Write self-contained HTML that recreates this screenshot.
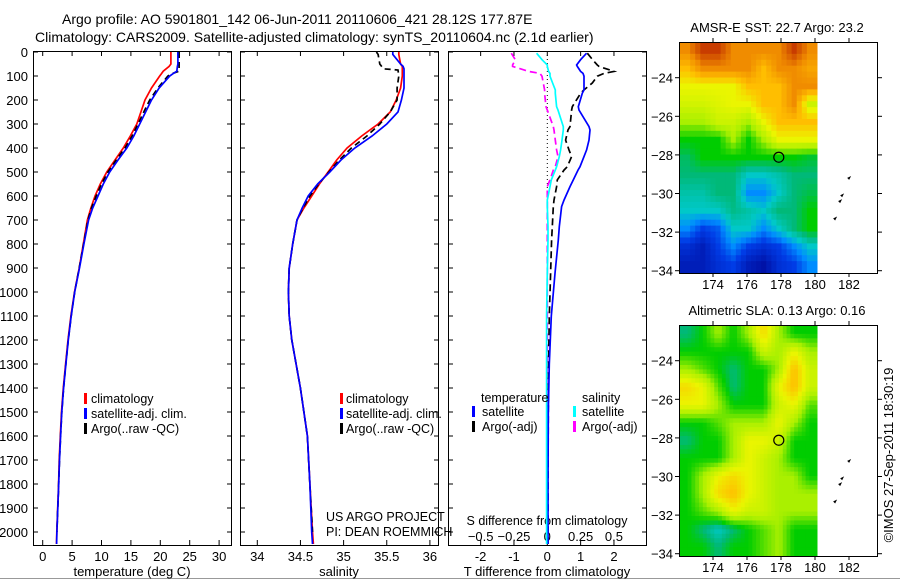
<!DOCTYPE html>
<html><head><meta charset="utf-8"><style>
body{margin:0;background:#fff;}
svg{display:block;font-family:"Liberation Sans",sans-serif;}
text{fill:#000;}
</style></head><body>
<svg id="fig" width="900" height="580" viewBox="0 0 900 580">
<rect width="900" height="580" fill="#fff"/>
<line x1="0" y1="578.5" x2="900" y2="578.5" stroke="#999"/>
<text x="62" y="24" font-size="14">Argo profile: AO 5901801_142 06-Jun-2011 20110606_421 28.12S 177.87E</text>
<text x="35" y="42" font-size="14">Climatology: CARS2009. Satellite-adjusted climatology: synTS_20110604.nc (2.1d earlier)</text>
<g id="g"></g>
</svg>
<script>
// ---- temperature profiles ----
const tDepth = [0,50,60,80,90,100,150,200,250,300,350,400,450,500,550,600,650,700,800,900,1000,1100,1200,1300,1400,1500,1600,1700,1800,1900,2000,2050];
const tClim  = [21.8,21.8,21.5,20.5,20.2,19.9,18.5,17.4,16.7,16.0,14.9,13.7,12.3,10.9,9.8,8.9,8.2,7.6,6.9,6.2,5.4,4.8,4.3,3.9,3.5,3.2,3.0,2.8,2.7,2.55,2.4,2.35];
const tSat   = [23.0,23.0,22.9,22.8,22.2,21.6,19.8,18.5,17.5,16.5,15.5,14.3,12.8,11.4,10.3,9.4,8.5,7.8,7.0,6.25,5.45,4.85,4.35,3.95,3.55,3.25,3.05,2.85,2.72,2.57,2.42,2.37];
const tArgo  = [23.2,23.2,23.2,23.2,22.0,21.3,19.6,18.2,17.2,16.2,15.2,14.0,12.5,11.1,10.0,9.1,8.3,7.7,6.95,6.2,5.45,4.85,4.35,3.95,3.55,3.25,3.05,2.85,2.72,2.57,2.42];
// ---- salinity profiles ----
const sDepth = [0,10,50,60,70,75,100,150,200,250,300,350,400,450,500,550,600,650,700,800,900,1000,1100,1200,1300,1400,1500,1600,1800,2000,2050];
const sClim  = [35.64,35.64,35.66,35.68,35.68,35.68,35.68,35.66,35.61,35.54,35.40,35.21,35.04,34.92,34.82,34.72,34.63,34.54,34.46,34.41,34.37,34.36,34.37,34.40,34.45,34.50,34.54,34.58,34.61,34.64,34.65];
const sSat   = [35.57,35.57,35.66,35.69,35.70,35.70,35.70,35.70,35.67,35.63,35.50,35.33,35.13,34.97,34.84,34.70,34.59,34.52,34.46,34.41,34.37,34.36,34.37,34.40,34.45,34.50,34.54,34.58,34.61,34.63,34.64];
const sArgo  = [35.38,35.40,35.42,35.44,35.46,35.63,35.64,35.62,35.62,35.54,35.42,35.27,35.09,34.95,34.83,34.71,34.61,34.53,34.46,34.41,34.37,34.36,34.37,34.40,34.45,34.50,34.54,34.58,34.61,34.64];
// ---- difference profiles ----
const dDepth = [5,32,54,60,81,89,101,129,158,172,228,242,311,325,367,408,436,478,492,533,561,617,644,728,783,922,1100,1300,1500,1800,2050];
const dTSat  = [1.18,1.0,0.88,0.9,1.0,1.07,1.1,1.1,1.1,1.05,0.93,0.95,1.25,1.28,1.25,1.18,1.1,0.98,0.92,0.78,0.68,0.5,0.43,0.36,0.33,0.23,0.12,0.06,0.03,0.02,0.02];
const dTArgo = [1.2,1.36,1.5,1.55,2.0,1.7,1.5,1.35,1.1,1.0,0.75,0.73,0.68,0.62,0.55,0.65,0.73,0.6,0.5,0.3,0.28,0.2,0.18,0.15,0.13,0.1,0.06,0.04,0.03,0.02,0.02];
const dSSat  = [-0.08,-0.04,0.0,0.0,0.01,0.02,0.02,0.04,0.06,0.06,0.07,0.08,0.12,0.12,0.11,0.1,0.09,0.07,0.06,0.03,0.02,0.0,0.0,0.005,0.005,0.0,-0.005,-0.005,-0.005,-0.005,-0.005];
const dSArgo = [-0.27,-0.24,-0.26,-0.26,-0.14,-0.055,-0.04,-0.03,-0.02,-0.02,-0.01,0.0,0.045,0.05,0.06,0.07,0.08,0.06,0.045,0.02,0.0,0.0,0.0,0.0,0.0,0.0,0.0,0.0,0.0,0.0,0.0];
const depthTicks = [0,100,200,300,400,500,600,700,800,900,1000,1100,1200,1300,1400,1500,1600,1700,1800,1900,2000];
const tTicks = [0,5,10,15,20,25,30];
const sTicks = [34,34.5,35,35.5,36];
const dTTicks = [-2,-1,0,1,2];
const dSTicks = [-0.5,-0.25,0,0.25,0.5];
const dSTickLabels = ["\u22120.5","\u22120.25","0","0.25","0.5"];
// ---- maps ----
const mapLonTicks = [174,176,178,180,182];
const mapLatTicks = [-24,-26,-28,-30,-32,-34];
const floatLon = 177.87, floatLat = -28.12;
const sstGrid = [
[7,8,8,7,7,7,7,8,7],
[6,7,7,7,7,6,7,7,6.5],
[5,5,5,5,6,6,6,7,7],
[4.6,4.6,4.8,5,5,6,6,7,4.5],
[4,4,4.5,4.5,4,5,6,6,6],
[3,3,3,4,3,4,5,5,5],
[2.6,3,3,3,3,3,3,3,2.8],
[2.5,2.5,2.5,2.5,2,2,2.2,2.5,2.5],
[2.2,2.2,2.5,2.5,1.5,1.5,2,2.5,2.7],
[2,2,2,2.4,2.2,2,2.5,2.5,3],
[1.5,1,1.2,2,2,1.5,2,2.5,3],
[0.8,0.5,1,1.5,1,0.8,1,1.5,2],
[0.5,0.5,0.8,1,0.5,0.3,0.8,1,1.5]];
const slaGrid = [
[2.5,3,4,3,4,5.5,4,3,3],
[3,3,3,3,3,4.5,4,5,4],
[4,3.5,3,2.5,3,3,4,6,4.5],
[5.5,5,3.5,2.5,3,3,5,6,4.5],
[5,5,4,3,3,3,4.5,5,3.5],
[3,3,3.5,4,4,4,5,4,3],
[2.5,3,3,4,5,5,4.5,3,3],
[3,3,3,4,5,4.5,4,3,3],
[3,4,5,5.5,5,4.5,4,4,3],
[3,4,5.5,6,5,4.5,4,4,4],
[3,3.5,4,5,4.5,4.5,4,4,4],
[3,2.5,2,2.5,3,3.5,4,3,3],
[3,3,2.5,3,3,3.5,4,3,3]];

const NS="http://www.w3.org/2000/svg";
const G=document.getElementById('g');
function mk(tag,attrs,parent){const e=document.createElementNS(NS,tag);for(const k in attrs)e.setAttribute(k,attrs[k]);(parent||G).appendChild(e);return e;}
function txt(x,y,s,size,anchor,name,parent){const e=mk('text',{x:x,y:y,'font-size':size,'text-anchor':anchor},parent);e.textContent=s;


return e;}

const Y0=51,Y1=545;
const yD=d=>52+0.24*d;
const xT=v=>42.7+5.88*v;
const xS=v=>257.3+86.3*(v-34);
const xDT=v=>547.3+33.33*v;
const xDS=v=>547.3+133.3*v;

function panel(x0,x1,name,ylabels){
  const g=mk('g',{});
  
  
  const r=mk('rect',{x:x0+0.5,y:Y0+0.5,width:x1-x0,height:Y1-Y0,fill:'none',stroke:'#000'},g);
  
  
  depthTicks.forEach(d=>{const y=yD(d);
    mk('line',{x1:x0,y1:y,x2:x0+5,y2:y,stroke:'#000'},g);
    mk('line',{x1:x1-4,y1:y,x2:x1+1,y2:y,stroke:'#000'},g);
    if(ylabels) txt(28,y+5,String(d),13,'end','depth-tick-label',g);
  });
  return g;
}
function xticks(g,ticks,fx,labels,ly,name){
  ticks.forEach((t,i)=>{const x=fx(t);
    mk('line',{x1:x,y1:Y1,x2:x,y2:Y1-5,stroke:'#000'},g);
    mk('line',{x1:x,y1:Y0,x2:x,y2:Y0+5,stroke:'#000'},g);
    if(ly) txt(x,ly,labels?labels[i]:String(t),13,'middle',name,g);
  });
}
function line(xs,ds,fx,color,dash,name,width){
  let p='';for(let i=0;i<Math.min(xs.length,ds.length);i++){p+=(i?'L':'M')+fx(xs[i]).toFixed(1)+','+yD(ds[i]).toFixed(1);}
  const a={d:p,fill:'none',stroke:color,'stroke-width':width||1.7};
  if(dash)a['stroke-dasharray']=dash;
  const e=mk('path',a);
  
  
  return e;
}
function legMark(x,y,color,name){const e=mk('rect',{x:x,y:y-10,width:3,height:11,fill:color});
  
  }

// Panel 1
const p1=panel(33,231,'temperature-panel',true);
xticks(p1,tTicks,xT,null,561,'temperature-tick-label');
txt(132,576,'temperature (deg C)',13,'middle','temperature-axis-title');
line(tClim,tDepth,xT,'#f00',null,'temp-climatology-line');
line(tArgo,tDepth,xT,'#000','6,4','temp-argo-line');
line(tSat,tDepth,xT,'#00f',null,'temp-satellite-line');
[['#f00','climatology'],['#00f','satellite-adj. clim.'],['#000','Argo(..raw -QC)']].forEach((l,i)=>{
  legMark(84,403+i*15,l[0],'temp-legend-marker');
  txt(91,403+i*15,l[1],12.5,'start','temp-legend-entry');
});

// Panel 2
const p2=panel(240,438,'salinity-panel',false);
xticks(p2,sTicks,xS,null,561,'salinity-tick-label');
txt(339,576,'salinity',13,'middle','salinity-axis-title');
line(sClim,sDepth,xS,'#f00',null,'sal-climatology-line');
line(sArgo,sDepth,xS,'#000','6,4','sal-argo-line');
line(sSat,sDepth,xS,'#00f',null,'sal-satellite-line');
[['#f00','climatology'],['#00f','satellite-adj. clim.'],['#000','Argo(..raw -QC)']].forEach((l,i)=>{
  legMark(340,403+i*15,l[0],'sal-legend-marker');
  txt(346,403+i*15,l[1],12.5,'start','sal-legend-entry');
});
txt(326,521,'US ARGO PROJECT',12.5,'start','project-credit');
txt(326,536,'PI: DEAN ROEMMICH',12.5,'start','pi-credit');

// Panel 3
const p3=panel(448,646,'difference-panel',false);
xticks(p3,dTTicks,xDT,null,561,'t-diff-tick-label');
dSTicks.forEach((t,i)=>txt(xDS(t),541,dSTickLabels[i],13,'middle','s-diff-tick-label'));
txt(547,525,'S difference from climatology',12.5,'middle','s-diff-axis-title');
txt(547,576,'T difference from climatology',13,'middle','t-diff-axis-title');
{const z=mk('line',{x1:547.3,y1:Y0,x2:547.3,y2:yD(620),stroke:'#000','stroke-dasharray':'1,3'});

}
line(dSArgo,dDepth,xDS,'#f0f','7,4','s-diff-argo-line');
line(dTArgo,dDepth,xDT,'#000','7,4','t-diff-argo-line');
line(dTSat,dDepth,xDT,'#00f',null,'t-diff-satellite-line');
line(dSSat,dDepth,xDS,'#0ff',null,'s-diff-satellite-line');
txt(481,402,'temperature',12.5,'start','legend-temperature-heading');
txt(582,402,'salinity',12.5,'start','legend-salinity-heading');
legMark(472,416,'#00f','legend-t-sat-marker');txt(482,416,'satellite',12.5,'start','legend-t-satellite');
legMark(472,431,'#000','legend-t-argo-marker');txt(482,431,'Argo(-adj)',12.5,'start','legend-t-argo');
legMark(573,416,'#0ff','legend-s-sat-marker');txt(582,416,'satellite',12.5,'start','legend-s-satellite');
legMark(573,431,'#f0f','legend-s-argo-marker');txt(582,431,'Argo(-adj)',12.5,'start','legend-s-argo');

// Maps
const cmapStops=[[0,[0,0,140]],[1,[0,60,230]],[1.5,[0,140,255]],[2,[0,200,200]],[2.5,[0,185,120]],[3,[0,205,0]],[4,[170,240,0]],[5,[235,245,0]],[6,[255,190,0]],[7,[240,140,0]],[8,[200,60,0]],[9,[160,0,0]]];
function cmap(v){for(let i=1;i<cmapStops.length;i++){const a=cmapStops[i-1],b=cmapStops[i];if(v<=b[0]){const f=(v-a[0])/(b[0]-a[0]);return 'rgb('+a[1].map((c,k)=>Math.round(c+(b[1][k]-c)*f)).join(',')+')';}}return 'rgb(160,0,0)';}
function sampleGrid(grid,fr,fc){ // bilinear sample at fractional cell-center coords
  const nR=grid.length,nC=grid[0].length;
  const r=Math.max(0,Math.min(nR-1,fr)),c=Math.max(0,Math.min(nC-1,fc));
  const r0=Math.floor(r),c0=Math.floor(c),r1=Math.min(nR-1,r0+1),c1=Math.min(nC-1,c0+1);
  const a=r-r0,b=c-c0;
  return grid[r0][c0]*(1-a)*(1-b)+grid[r0][c1]*(1-a)*b+grid[r1][c0]*a*(1-b)+grid[r1][c1]*a*b;
}
function mapPanel(top,bot,grid,title,name,sub){
  const lon0=172,pxLon=17,latTop=-22.15,pxLat=19.3;
  const xL=l=>679+(l-lon0)*pxLon, yL=l=>top+(latTop-l)*pxLat;
  const g=mk('g',{});
  
  
  const nR=grid.length,nC=grid[0].length,x0=680,x1=817;
  const SR=nR*sub,SC=nC*sub;
  const cw=(x1-x0)/SC,ch=(bot-top)/SR;
  for(let r=0;r<SR;r++)for(let c=0;c<SC;c++){
    const v=sampleGrid(grid,(r+0.5)/sub-0.5,(c+0.5)/sub-0.5);
    const cell=mk('rect',{x:(x0+c*cw).toFixed(2),y:(top+r*ch).toFixed(2),width:(cw+0.5).toFixed(2),height:(ch+0.5).toFixed(2),fill:cmap(v)},g);
    
    
  }
  const fr=mk('rect',{x:679.5,y:top+0.5,width:198,height:bot-top,fill:'none',stroke:'#000'},g);
  
  
  mapLonTicks.forEach(l=>{const x=xL(l);
    mk('line',{x1:x,y1:top,x2:x,y2:top-4,stroke:'#000'},g);
    mk('line',{x1:x,y1:bot,x2:x,y2:bot+4,stroke:'#000'},g);
    txt(x,bot+16,String(l),13,'middle',name+'-lon-label',g);});
  mapLatTicks.forEach(l=>{const y=yL(l);
    mk('line',{x1:679,y1:y,x2:675,y2:y,stroke:'#000'},g);
    mk('line',{x1:878,y1:y,x2:882,y2:y,stroke:'#000'},g);
    txt(673,y+5,'\u2212'+String(-l),13,'end',name+'-lat-label',g);});
  [[848,-29.2],[841,-30.1],[839,-30.4],[834,-31.3]].forEach(p=>{mk('path',{d:'M'+p[0]+','+yL(p[1])+'l2,-1l-1,2z',fill:'none',stroke:'#000','stroke-width':1},g);});
  const c=mk('circle',{cx:xL(floatLon),cy:yL(floatLat),r:5,fill:'none',stroke:'#000','stroke-width':1.2},g);
  
  
  txt(777,top-10,title,13,'middle',name+'-title',g);
}
mapPanel(42,273,sstGrid,'AMSR-E SST: 22.7 Argo: 23.2','sst-map',3);
mapPanel(325,556,slaGrid,'Altimetric SLA: 0.13 Argo: 0.16','sla-map',4);
{const t=txt(0,0,'\u00a9IMOS 27-Sep-2011 18:30:19',13,'middle','imos-timestamp');t.setAttribute('transform','translate(893,455) rotate(-90)');}
</script>
</body></html>
